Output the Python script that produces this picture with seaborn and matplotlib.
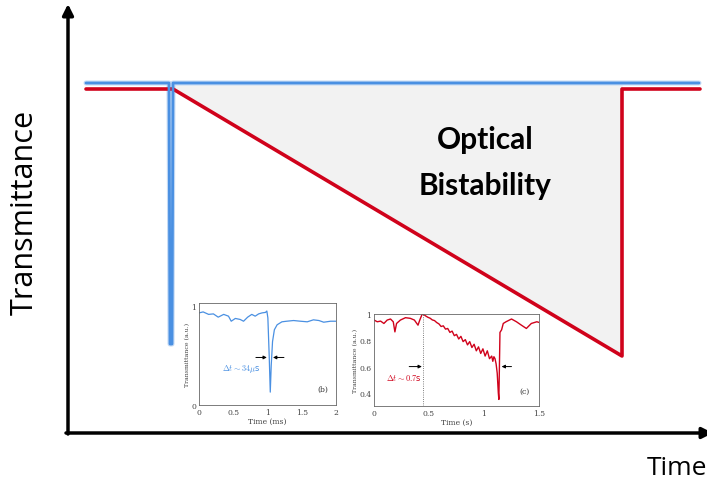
import numpy as np
import pandas as pd
import seaborn as sns
import matplotlib
matplotlib.use("Agg")
import matplotlib.pyplot as plt

# schematic traces (figure pixel units)
blue_t = [86, 169, 170, 172, 173, 699]
blue_T = [401, 401, 140, 140, 401, 401]
red_t = [86, 173, 622, 622, 700]
red_T = [395, 395, 128, 395, 395]
gap_t = [173, 622, 622, 173]
gap_T = [401, 401, 128, 395]

# inset (b): fast switching, time in ms
b_time = [0, 0.06, 0.14, 0.21, 0.28, 0.36, 0.43, 0.47, 0.53, 0.6, 0.65, 0.71,
          0.77, 0.82, 0.87, 0.92, 0.97, 0.99, 1.005, 1.024, 1.04, 1.054, 1.073,
          1.1, 1.14, 1.21, 1.28, 1.38, 1.48, 1.58, 1.67, 1.75, 1.82, 1.92, 2.0]
b_trans = [0.93, 0.94, 0.915, 0.92, 0.887, 0.915, 0.897, 0.846, 0.874, 0.864,
           0.846, 0.887, 0.915, 0.897, 0.92, 0.93, 0.935, 0.949, 0.88, 0.505,
           0.13, 0.40, 0.64, 0.76, 0.81, 0.84, 0.846, 0.853, 0.846, 0.84, 0.86,
           0.853, 0.836, 0.846, 0.846]

# inset (c): slow bistable decay, time in s
c_time = [0, 0.03, 0.06, 0.09, 0.12, 0.15, 0.175, 0.19, 0.205, 0.24, 0.286,
          0.33, 0.367, 0.40, 0.416, 0.437, 0.446,
          0.47, 0.49, 0.51, 0.53, 0.55, 0.57, 0.59, 0.61, 0.63, 0.65, 0.67,
          0.69, 0.71, 0.73, 0.75, 0.77, 0.79, 0.81, 0.83, 0.85, 0.87, 0.89,
          0.91, 0.93, 0.95, 0.97, 0.99, 1.01, 1.03, 1.05, 1.07, 1.08, 1.09,
          1.10, 1.11, 1.12, 1.13, 1.135, 1.14, 1.145, 1.16, 1.175, 1.2, 1.25,
          1.295, 1.34, 1.385, 1.43, 1.48, 1.5]
c_trans = [0.954, 0.941, 0.946, 0.928, 0.954, 0.962, 0.941, 0.864, 0.928,
           0.954, 0.972, 0.967, 0.954, 0.915, 0.954, 0.997, 1.0,
           0.985, 0.975, 0.968, 0.955, 0.95, 0.935, 0.925, 0.905, 0.91, 0.885,
           0.89, 0.86, 0.87, 0.835, 0.845, 0.81, 0.83, 0.79, 0.805, 0.765,
           0.79, 0.745, 0.77, 0.72, 0.75, 0.70, 0.735, 0.68, 0.72, 0.66, 0.68,
           0.64, 0.675, 0.66, 0.62, 0.55, 0.40, 0.35, 0.60, 0.86, 0.88, 0.928,
           0.941, 0.962, 0.941, 0.915, 0.89, 0.928, 0.941, 0.936]

blue = "#4a90e2"
red = "#d0021b"

sns.set_style("white")
plt.rcParams["mathtext.fontset"] = "cm"
plt.rcParams["text.color"] = "black"

fig = plt.figure(figsize=(7.07, 4.85), dpi=100)
ax = fig.add_axes([0, 0, 1, 1])
ax.set_xlim(0, 707)
ax.set_ylim(0, 485)
ax.axis("off")

ax.fill(gap_t, gap_T, color="#f2f2f2", zorder=1)
sns.lineplot(x=blue_t, y=blue_T, sort=False, estimator=None, color="#c4daf5",
             lw=3.6, ax=ax, zorder=2)
sns.lineplot(x=red_t, y=red_T, sort=False, estimator=None, color=red,
             lw=2.6, ax=ax, zorder=3)
sns.lineplot(x=blue_t, y=blue_T, sort=False, estimator=None, color=blue,
             lw=2.0, ax=ax, zorder=4)

# axes arrows
ax.annotate("", xy=(68, 480), xytext=(68, 50), annotation_clip=False,
            arrowprops=dict(arrowstyle="-|>", lw=2.5, color="black",
                            mutation_scale=16, shrinkA=0, shrinkB=0))
ax.annotate("", xy=(713, 51), xytext=(66, 51), annotation_clip=False,
            arrowprops=dict(arrowstyle="-|>", lw=2.5, color="black",
                            mutation_scale=16, shrinkA=0, shrinkB=0))

ax.text(25, 273, "Transmittance", rotation=90, ha="center", va="center",
        fontsize=22, family="Open Sans")
ax.text(647, 10, "Time", ha="left", va="baseline", fontsize=19,
        family="Open Sans")
ax.text(485, 336, "Optical", ha="center", va="baseline", fontsize=21.5,
        family="Lato", fontweight="bold")
ax.text(485, 290, "Bistability", ha="center", va="baseline", fontsize=21.5,
        family="Lato", fontweight="bold")


def style_inset(a):
    for s in a.spines.values():
        s.set_color("#666666")
        s.set_linewidth(0.6)
    a.tick_params(direction="in", length=2, width=0.5, labelsize=5.5,
                  colors="#444444", pad=2)
    for lab in a.get_xticklabels() + a.get_yticklabels():
        lab.set_family("DejaVu Serif")


arrow_kw = dict(arrowstyle="-|>", lw=0.7, color="black", mutation_scale=5,
                shrinkA=0, shrinkB=0)

# inset (b)
axb = fig.add_axes([0.2815, 0.1629, 0.1938, 0.2103])
axb.set_facecolor("white")
sns.lineplot(x=b_time, y=b_trans, sort=False, estimator=None, color=blue,
             lw=0.9, ax=axb)
axb.set_xlim(0, 2)
axb.set_ylim(0, 1.03)
axb.set_xticks([0, 0.5, 1, 1.5, 2], ["0", "0.5", "1", "1.5", "2"])
axb.set_yticks([0, 1], ["0", "1"])
axb.set_xlabel("Time (ms)", fontsize=5.5, family="DejaVu Serif",
               color="#444444", labelpad=1)
axb.set_ylabel("Transmittance (a.u.)", fontsize=4.5, family="DejaVu Serif",
               color="#444444", labelpad=1)
style_inset(axb)
axb.annotate("", xy=(0.99, 0.48), xytext=(0.83, 0.48), arrowprops=arrow_kw)
axb.annotate("", xy=(1.08, 0.48), xytext=(1.24, 0.48), arrowprops=arrow_kw)
axb.text(0.62, 0.37, r"$\Delta t\sim 34\mu$s", color=blue, fontsize=6,
         ha="center", va="center")
axb.text(1.8, 0.16, "(b)", fontsize=5.5, family="DejaVu Serif",
         ha="center", va="center", color="#333333")

# inset (c)
axc = fig.add_axes([0.529, 0.1608, 0.2334, 0.1897])
axc.set_facecolor("white")
sns.lineplot(x=c_time, y=c_trans, sort=False, estimator=None, color=red,
             lw=1.0, ax=axc)
axc.axvline(0.446, color="#555555", lw=0.6, ls=":")
axc.set_xlim(0, 1.5)
axc.set_ylim(0.3, 1.0)
axc.set_xticks([0, 0.5, 1, 1.5], ["0", "0.5", "1", "1.5"])
axc.set_yticks([0.4, 0.6, 0.8, 1], ["0.4", "0.6", "0.8", "1"])
axc.set_xlabel("Time (s)", fontsize=5.5, family="DejaVu Serif",
               color="#444444", labelpad=1)
axc.set_ylabel("Transmittance (a.u.)", fontsize=4.5, family="DejaVu Serif",
               color="#444444", labelpad=1)
style_inset(axc)
axc.annotate("", xy=(0.435, 0.6), xytext=(0.32, 0.6), arrowprops=arrow_kw)
axc.annotate("", xy=(1.16, 0.6), xytext=(1.25, 0.6), arrowprops=arrow_kw)
axc.text(0.27, 0.52, r"$\Delta t\sim 0.7$s", color=red, fontsize=6,
         ha="center", va="center")
axc.text(1.37, 0.415, "(c)", fontsize=5.5, family="DejaVu Serif",
         ha="center", va="center", color="#333333")

fig.savefig("out.png", dpi=100)
